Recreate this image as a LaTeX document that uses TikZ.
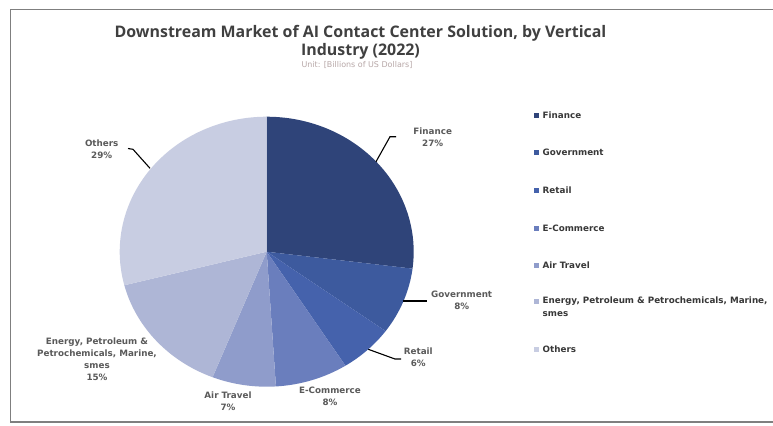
\documentclass[tikz,border=0pt]{standalone}
\usepackage{fontspec}
\setmainfont{Open Sans}
\newfontfamily\djv{DejaVu Sans}
\definecolor{cFin}{HTML}{2F4479}
\definecolor{cGov}{HTML}{3D5A9E}
\definecolor{cRet}{HTML}{4562AC}
\definecolor{cEco}{HTML}{6A7EBD}
\definecolor{cAir}{HTML}{8F9CCB}
\definecolor{cEne}{HTML}{AEB6D6}
\definecolor{cOth}{HTML}{C8CDE2}
\definecolor{ttl}{HTML}{404040}
\definecolor{lbl}{HTML}{5A5A5A}
\definecolor{frm}{HTML}{7F7F7F}
\definecolor{unit}{HTML}{B8A8A8}
\begin{document}
\begin{tikzpicture}[x=1bp,y=-1bp,
  slabel/.style={font=\djv\fontsize{8.8}{11.8}\selectfont\bfseries, text=lbl, align=center, inner sep=0pt},
  legtext/.style={font=\djv\fontsize{8.8}{13}\selectfont\bfseries, text=black!78, anchor=west, inner sep=0pt, align=left},
  legbox/.style={minimum size=5bp, inner sep=0pt},
  leader/.style={draw=black, line width=1.1bp},
  frameline/.style={draw=frm, line width=1.6bp},
  pie/.style={x radius=147, y radius=135}]
\useasboundingbox (0,0) rectangle (773,425);
\fill[white] (0,0) rectangle (773,425);
% frame
\coordinate (ftr) at (773,9.5);
\coordinate (ftl) at (10.5,9.5);
\coordinate (fbl) at (10.5,422);
\coordinate (fbr) at (773,422);
\draw[frameline] (ftr) -- (ftl) -- (fbl) -- (fbr);
% title
\node[font=\fontsize{16}{18.5}\selectfont\bfseries, text=ttl, align=center, inner sep=0pt] (title) at (360.5,42.5)
  {Downstream Market of AI Contact Center Solution, by Vertical\\Industry (2022)};
\node[font=\djv\fontsize{8}{9}\selectfont, text=unit, inner sep=0pt] (unit) at (357,64.5) {Unit: [Billions of US Dollars]};
% pie
\begin{scope}[shift={(266.7,251.7)}, yscale=-1]
\coordinate (pc) at (0,0);
\fill[cFin] (pc) -- (90:147 and 135) arc[start angle=90, end angle=-7.2, pie] -- cycle;
\fill[cGov] (pc) -- (-7.2:147 and 135) arc[start angle=-7.2, end angle=-36, pie] -- cycle;
\fill[cRet] (pc) -- (-36:147 and 135) arc[start angle=-36, end angle=-57.6, pie] -- cycle;
\fill[cEco] (pc) -- (-57.6:147 and 135) arc[start angle=-57.6, end angle=-86.4, pie] -- cycle;
\fill[cAir] (pc) -- (-86.4:147 and 135) arc[start angle=-86.4, end angle=-111.6, pie] -- cycle;
\fill[cEne] (pc) -- (-111.6:147 and 135) arc[start angle=-111.6, end angle=-165.6, pie] -- cycle;
\fill[cOth] (pc) -- (-165.6:147 and 135) arc[start angle=-165.6, end angle=-270, pie] -- cycle;
\end{scope}
% slice labels
\node[slabel] (lFin) at (432.7,137.5) {Finance\\27\%};
\node[slabel] (lGov) at (461.7,300) {Government\\8\%};
\node[slabel] (lRet) at (418.3,357.5) {Retail\\6\%};
\node[slabel] (lEco) at (330,396) {E-Commerce\\8\%};
\node[slabel] (lAir) at (228,401) {Air Travel\\7\%};
\node[slabel] (lEne) at (97,359.3) {Energy, Petroleum \&\\Petrochemicals, Marine,\\smes\\15\%};
\node[slabel] (lOth) at (101.7,149.3) {Others\\29\%};
% leaders
\coordinate (fA) at (376,161.7); \coordinate (fB) at (390,136.7); \coordinate (fC) at (396,136.7);
\draw[leader] (fA) -- (fB) -- (fC);
\coordinate (gA) at (402.7,301); \coordinate (gB) at (427,301);
\draw[leader] (gA) -- (gB);
\coordinate (rA) at (368.3,349.3); \coordinate (rB) at (395,359); \coordinate (rC) at (401,359);
\draw[leader] (rA) -- (rB) -- (rC);
\coordinate (oA) at (128,148.5); \coordinate (oB) at (133,149.3); \coordinate (oC) at (150,168.3);
\draw[leader] (oA) -- (oB) -- (oC);
% legend
\foreach \c/\y/\t [count=\i] in {cFin/115.7/Finance, cGov/152.7/Government, cRet/190.7/Retail, cEco/228.3/E-Commerce, cAir/265.7/Air Travel, cOth/349.3/Others}{
  \node[legbox, fill=\c] (lb\i) at (536,\y) {};
  \node[legtext] (lt\i) at (542.5,\y) {\t};
}
\node[legbox, fill=cEne] (lbE) at (536,301.7) {};
\node[legtext, anchor=north west] (ltE) at (542.5,296.2) {Energy, Petroleum \& Petrochemicals, Marine,\\smes};
\end{tikzpicture}
\end{document}
